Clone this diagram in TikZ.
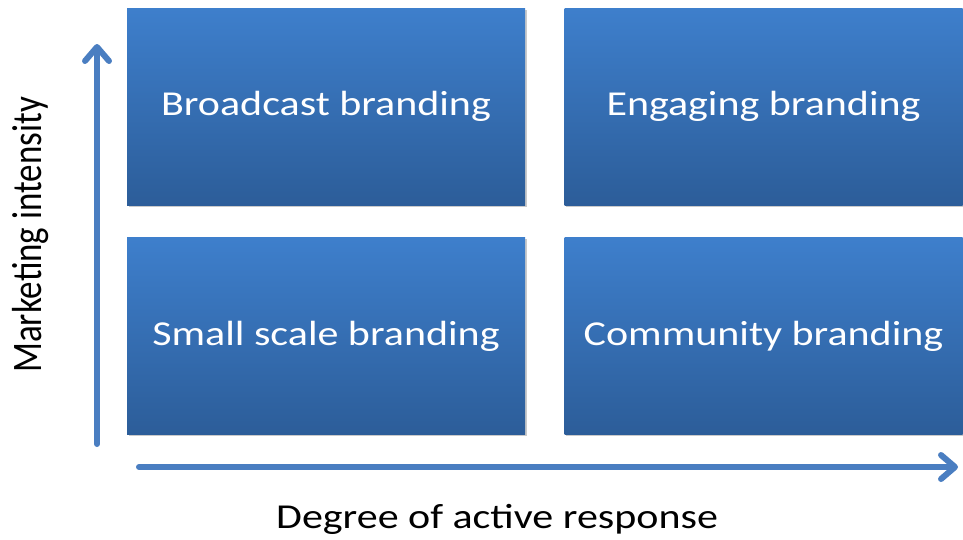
\documentclass[tikz,border=0pt]{standalone}
\usepackage{fontspec}
\setmainfont{Carlito}
\usetikzlibrary{arrows.meta,shadows}
\definecolor{boxtop}{RGB}{62,127,204}
\definecolor{boxbot}{RGB}{44,93,153}
\definecolor{arrowblue}{RGB}{74,126,193}
\newcommand{\wide}[1]{\scalebox{1.2}[1]{#1}}
\newcommand{\tall}[1]{\scalebox{1}[1.2]{#1}}
\tikzset{
  quad/.style={minimum width=398pt,minimum height=197pt,inner sep=0pt,
    top color=boxtop,bottom color=boxbot,draw=none,text=white,
    font=\fontsize{35}{40}\selectfont,
    drop shadow={shadow xshift=1.5pt,shadow yshift=-1.5pt,opacity=0.35,fill=black!60}},
  axis/.style={draw=arrowblue,line width=6pt,line cap=round,
    -{Straight Barb[length=14pt,width=24pt,line cap=round,line join=round]}},
  axlabel/.style={font=\fontsize{35}{40}\selectfont,text=black,inner sep=0pt}
}
\begin{document}
\begin{tikzpicture}[x=1pt,y=-1pt]
\useasboundingbox (0,0) rectangle (963,539);
\node[quad] (bb) at (326,106.5) {\wide{Broadcast branding}};
\node[quad] (eb) at (763.5,106.5) {\wide{Engaging branding}};
\node[quad] (sb) at (326,336) {\wide{Small scale branding}};
\node[quad] (cb) at (763.5,336) {\wide{Community branding}};
\coordinate (v0) at (97,444);
\coordinate (v1) at (97,44);
\coordinate (h0) at (139,467);
\coordinate (h1) at (958,467);
\draw[axis] (v0) -- (v1);
\draw[axis] (h0) -- (h1);
\node[axlabel,rotate=90] (ylab) at (31,235) {\tall{Marketing intensity}};
\node[axlabel] (xlab) at (497,519) {\wide{Degree of active response}};
\end{tikzpicture}
\end{document}
